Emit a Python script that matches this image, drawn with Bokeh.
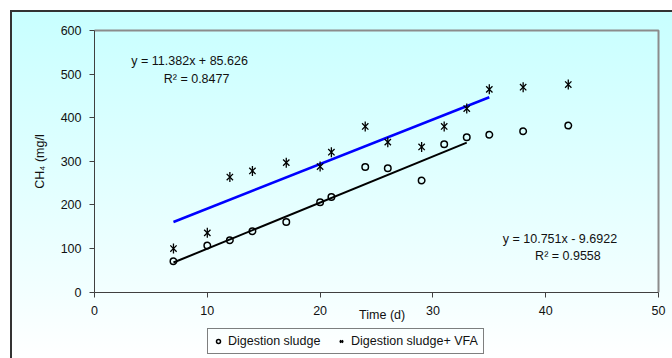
from bokeh.plotting import figure
from bokeh.models import Label, Legend, LegendItem, Range1d, FixedTicker
from bokeh.embed import file_html
from bokeh.resources import INLINE
import math

# ---- data ----
days = [7, 10, 12, 14, 17, 20, 21, 24, 26, 29, 31, 33, 35, 38, 42]
ch4_sludge = [71, 107, 119, 140, 161, 206, 218, 287, 284, 256, 339, 355, 361, 369, 382]
ch4_vfa = [100, 136, 264, 278, 297, 288, 321, 380, 344, 333, 380, 421, 465, 470, 476]

trend_sludge_x = [7, 33]
trend_sludge_y = [68, 343]
trend_vfa_x = [7, 35]
trend_vfa_y = [161, 447]

x_ticks = [0, 10, 20, 30, 40, 50]
y_ticks = [0, 100, 200, 300, 400, 500, 600]
x_max = 50
y_max = 600

eq_vfa = "y = 11.382x + 85.626"
r2_vfa = "R\u00b2 = 0.8477"
eq_sludge = "y = 10.751x - 9.6922"
r2_sludge = "R\u00b2 = 0.9558"

FONT = "Liberation Sans"
FS = "12.5px"

# the frame covers the whole framed panel; axes sit at x = 0 and y = 0,
# the plot-area box is drawn at x = 50, y = 600
p = figure(width=662, height=348, margin=(10, 0, 0, 10),
           output_backend="svg", toolbar_location=None,
           x_range=Range1d(-7.447, 51.24), y_range=Range1d(-152, 645.8),
           min_border_left=0, min_border_right=0,
           min_border_top=0, min_border_bottom=0)
p.styles = {"background": "linear-gradient(to bottom, #c8ffff 0%, #f2ffff 80%, #ffffff 100%)",
            "box-shadow": "inset 2px 2px 0 #333333"}
p.background_fill_alpha = 0
p.border_fill_alpha = 0
p.outline_line_color = None
p.xgrid.visible = False
p.ygrid.visible = False

for ax in (p.xaxis[0], p.yaxis[0]):
    ax.axis_line_color = "#404040"
    ax.major_tick_line_color = "#404040"
    ax.major_tick_out = 5
    ax.major_tick_in = 0
    ax.minor_tick_out = 0
    ax.minor_tick_in = 0
    ax.major_label_text_font = FONT
    ax.major_label_text_font_size = FS
    ax.major_label_text_color = "#111111"
p.xaxis.ticker = FixedTicker(ticks=x_ticks)
p.yaxis.ticker = FixedTicker(ticks=y_ticks)
p.xaxis.fixed_location = 0
p.yaxis.fixed_location = 0
p.xaxis.bounds = (0, x_max)
p.yaxis.bounds = (0, y_max)
p.xaxis.major_label_standoff = 9
p.yaxis.major_label_standoff = 8
p.yaxis.axis_label = "CH\u2084 (mg/l"
p.yaxis.axis_label_text_font = FONT
p.yaxis.axis_label_text_font_size = FS
p.yaxis.axis_label_text_font_style = "normal"
p.yaxis.axis_label_text_color = "#111111"
p.yaxis.axis_label_standoff = 11

# plot-area box (top and right sides)
p.line([0, x_max, x_max], [y_max, y_max, 0], line_color="#8c8c8c", line_width=2)

# trend lines
p.line(trend_vfa_x, trend_vfa_y, line_color="#0000ff", line_width=2.5)
p.line(trend_sludge_x, trend_sludge_y, line_color="#000000", line_width=2)

# markers
r_circ = p.scatter(days, ch4_sludge, marker="circle", size=6.5, fill_alpha=0,
                   line_color="black", line_width=1.5)
r_x = p.scatter(days, ch4_vfa, marker="x", size=9, line_color="black", line_width=1.3)
r_v = p.scatter(days, ch4_vfa, marker="dash", size=10, angle=math.pi / 2,
                line_color="black", line_width=1.3)

def lab(x, y, t):
    p.add_layout(Label(x=x, y=y, text=t, text_font=FONT, text_font_size=FS,
                       text_align="center", text_baseline="middle", text_color="#111111"))

lab(8.43, 529, eq_vfa)
lab(9.05, 488, r2_vfa)
lab(41.26, 121, eq_sludge)
lab(41.97, 82, r2_sludge)
lab(25.5, -53, "Time (d)")

legend = Legend(items=[LegendItem(label="Digestion sludge", renderers=[r_circ]),
                       LegendItem(label="Digestion sludge+ VFA", renderers=[r_x, r_v])],
                orientation="horizontal", location=(197, 4),
                label_text_font=FONT, label_text_font_size=FS,
                label_text_color="#111111",
                glyph_width=10, glyph_height=12, label_standoff=5, spacing=12,
                padding=5, margin=0, label_width=96, label_height=14,
                border_line_color="black", border_line_width=1,
                background_fill_alpha=0)
p.add_layout(legend, "center")

open("out.html", "w").write(file_html(p, INLINE))
